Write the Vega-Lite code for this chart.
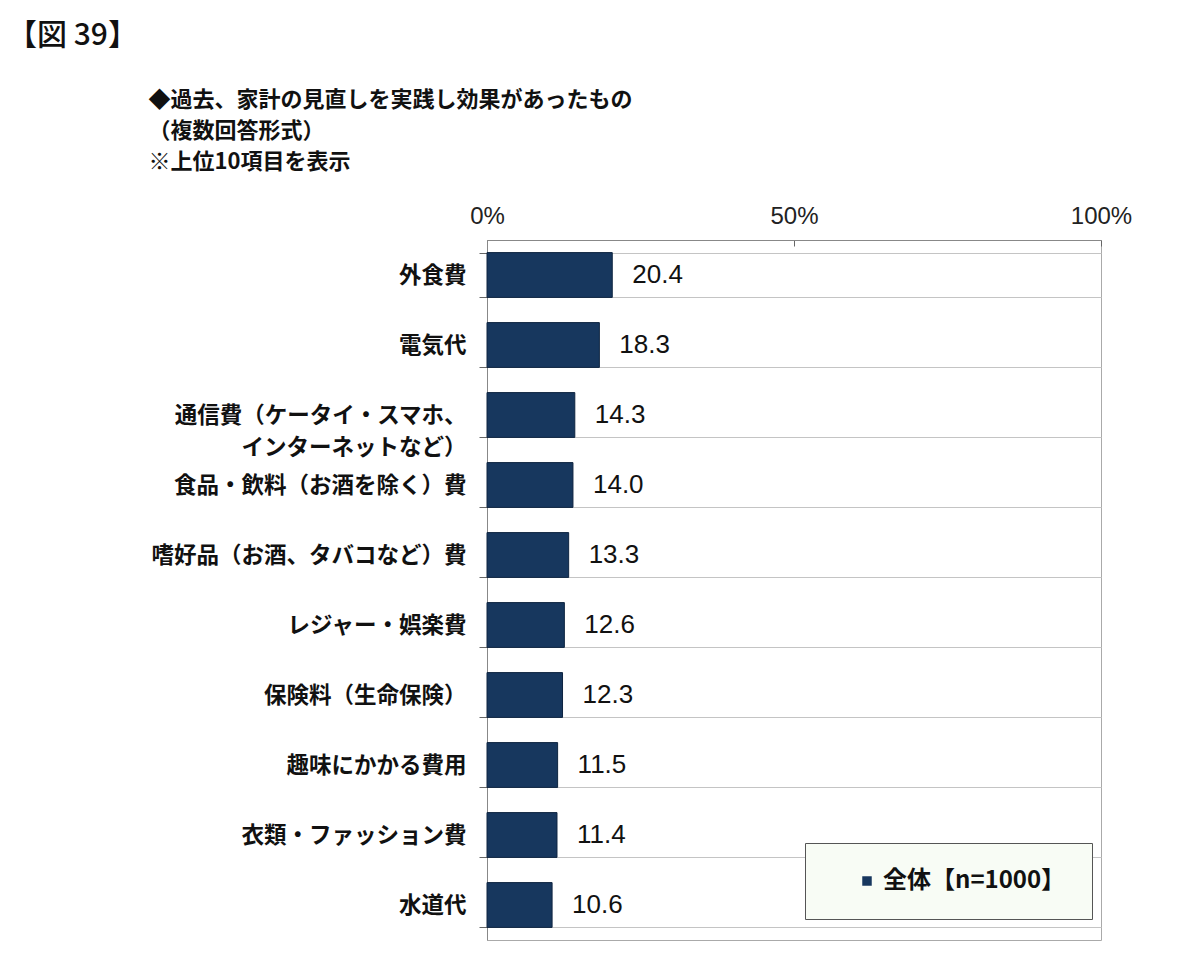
{
  "$schema": "https://vega.github.io/schema/vega-lite/v6.json",
  "autosize": {"type": "none"},
  "width": 614,
  "height": 700,
  "padding": {"left": 487, "top": 240, "right": 99, "bottom": 19},
  "background": "white",
  "title": {
    "text": "【図 39】",
    "anchor": "start",
    "frame": "group",
    "dx": -480,
    "offset": 37,
    "font": "Noto Sans CJK JP",
    "fontSize": 30,
    "fontWeight": 500,
    "color": "#111"
  },
  "data": {
    "values": [
      {"item": "外食費", "pct": 20.4, "group": "全体【n=1000】"},
      {"item": "電気代", "pct": 18.3, "group": "全体【n=1000】"},
      {"item": "通信費（ケータイ・スマホ、\nインターネットなど）", "pct": 14.3, "group": "全体【n=1000】"},
      {"item": "食品・飲料（お酒を除く）費", "pct": 14.0, "group": "全体【n=1000】"},
      {"item": "嗜好品（お酒、タバコなど）費", "pct": 13.3, "group": "全体【n=1000】"},
      {"item": "レジャー・娯楽費", "pct": 12.6, "group": "全体【n=1000】"},
      {"item": "保険料（生命保険）", "pct": 12.3, "group": "全体【n=1000】"},
      {"item": "趣味にかかる費用", "pct": 11.5, "group": "全体【n=1000】"},
      {"item": "衣類・ファッション費", "pct": 11.4, "group": "全体【n=1000】"},
      {"item": "水道代", "pct": 10.6, "group": "全体【n=1000】"}
    ]
  },
  "encoding": {
    "y": {
      "field": "item",
      "type": "nominal",
      "sort": null,
      "scale": {"paddingInner": 0.36, "paddingOuter": 0.18},
      "axis": {
        "title": null,
        "tickBand": "extent",
        "grid": true,
        "gridColor": "#c4c4c4",
        "gridWidth": 1,
        "domainColor": "#888",
        "tickColor": "#666",
        "tickSize": 8,
        "labelPadding": 13,
        "labelFont": "Noto Sans CJK JP",
        "labelFontSize": 22.5,
        "labelFontWeight": "bold",
        "labelColor": "#111",
        "labelLimit": 400,
        "labelLineHeight": 32,
        "labelExpr": "split(datum.label, '\\n')",
        "encode": {
          "labels": {
            "align": [
              {"test": "indexof(datum.value, '\\n') >= 0", "value": "center"},
              {"value": "right"}
            ],
            "dx": [
              {"test": "indexof(datum.value, '\\n') >= 0", "value": -133},
              {"value": 0}
            ]
          }
        }
      }
    },
    "x": {
      "field": "pct",
      "type": "quantitative",
      "scale": {"domain": [0, 100]},
      "axis": {
        "orient": "top",
        "values": [0, 50, 100],
        "labelExpr": "datum.value + '%'",
        "grid": false,
        "domainColor": "#888",
        "tickColor": "#666",
        "tickSize": -6,
        "labelPadding": 18,
        "labelFont": "Liberation Sans",
        "labelFontSize": 24,
        "labelColor": "#222",
        "labelFlush": false,
        "title": ["◆過去、家計の見直しを実践し効果があったもの", "（複数回答形式）", "※上位10項目を表示"],
        "titleFont": "Noto Sans CJK JP",
        "titleFontSize": 22,
        "titleFontWeight": "bold",
        "titleColor": "#111",
        "titleAngle": 0,
        "titleAlign": "left",
        "titleBaseline": "top",
        "titleLineHeight": 31,
        "titleX": -339,
        "titleY": -151
      }
    }
  },
  "layer": [
    {
      "mark": {"type": "bar", "stroke": "#0e2440", "strokeWidth": 1},
      "encoding": {
        "color": {
          "field": "group",
          "type": "nominal",
          "scale": {"range": ["#17375e"]},
          "legend": {
            "title": null,
            "orient": "none",
            "legendX": 318,
            "legendY": 603,
            "fillColor": "#f8fcf5",
            "strokeColor": "#555",
            "padding": 26,
            "symbolOffset": 24,
            "symbolType": "square",
            "symbolSize": 90,
            "symbolStrokeWidth": 0,
            "labelOffset": 4,
            "labelFont": "Noto Sans CJK JP",
            "labelFontSize": 24,
            "labelFontWeight": "bold",
            "labelColor": "#111",
            "labelLimit": 400
          }
        }
      }
    },
    {
      "mark": {
        "type": "text",
        "align": "left",
        "baseline": "middle",
        "dx": 20,
        "font": "Liberation Sans",
        "fontSize": 26,
        "color": "#111"
      },
      "encoding": {
        "text": {"field": "pct", "type": "quantitative", "format": ".1f"}
      }
    }
  ],
  "config": {
    "view": {"stroke": "#aaa", "strokeWidth": 1}
  }
}
